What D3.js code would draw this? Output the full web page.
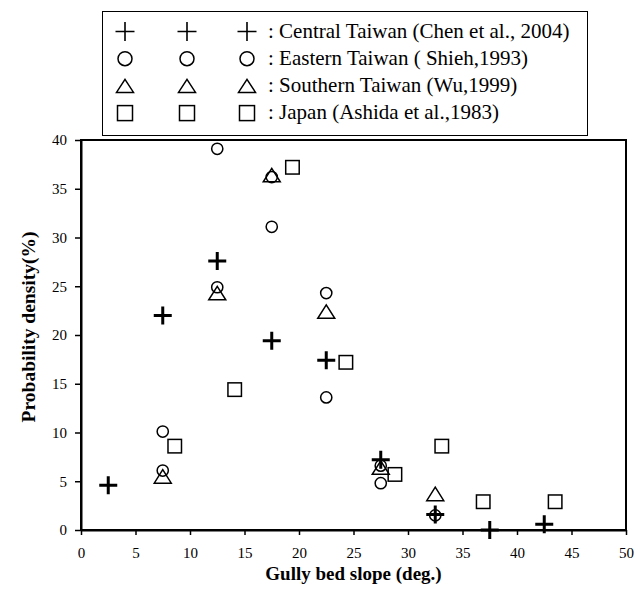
<!DOCTYPE html>
<html>
<head>
<meta charset="utf-8">
<script src="https://cdn.jsdelivr.net/npm/d3@7"></script>
<style>
  body { margin: 0; background: #fff; }
  svg text { font-family: "Liberation Serif", "Times New Roman", Times, serif; }
</style>
</head>
<body>
<div id="chart"></div>
<script>
// Werte (Gully bed slope vs. probability density)
const xTicks = [0, 5, 10, 15, 20, 25, 30, 35, 40, 45, 50];
const yTicks = [0, 5, 10, 15, 20, 25, 30, 35, 40];

const centralX = [2.5, 7.5, 12.5, 17.5, 22.5, 27.5, 32.5, 37.5, 42.5];
const centralY = [4.6, 22.0, 27.6, 19.4, 17.4, 7.2, 1.6, 0, 0.6];

const easternX = [7.5, 7.5, 12.5, 12.5, 17.5, 17.5, 22.5, 22.5, 27.5, 27.5, 32.5];
const easternY = [10.1, 6.1, 39.1, 24.9, 31.1, 36.2, 24.3, 13.6, 6.6, 4.8, 1.5];

const southernX = [7.5, 12.5, 17.5, 22.5, 27.5, 32.5];
const southernY = [5.5, 24.3, 36.4, 22.4, 6.4, 3.7];

const japanX = [8.6, 14.1, 19.4, 24.3, 28.8, 33.1, 36.9, 43.5];
const japanY = [8.6, 14.4, 37.2, 17.2, 5.7, 8.6, 2.9, 2.9];

const legendLabels = [
  ": Central Taiwan (Chen et al., 2004)",
  ": Eastern Taiwan ( Shieh,1993)",
  ": Southern Taiwan (Wu,1999)",
  ": Japan (Ashida et al.,1983)"
];

const series = [
  { xs: centralX, ys: centralY, type: "plus" },
  { xs: easternX, ys: easternY, type: "circle" },
  { xs: southernX, ys: southernY, type: "triangle" },
  { xs: japanX, ys: japanY, type: "square" }
];

const serif = "'Liberation Serif', 'Times New Roman', Times, serif";

// Größe und Ränder
const width = 635;
const height = 591;
const margin = { top: 140, right: 9, bottom: 61, left: 81 };

const svg = d3.select("#chart")
  .append("svg")
  .attr("width", width)
  .attr("height", height)
  .style("display", "block");

// Skalen
const x = d3.scaleLinear()
  .domain([0, 50])
  .range([margin.left, width - margin.right]);

const y = d3.scaleLinear()
  .domain([0, 40])
  .range([height - margin.bottom, margin.top]);

// Marker zeichnen
function drawMarker(g, type, big) {
  if (type === "plus") {
    const s = big ? 19 : 18;
    g.append("path")
      .attr("d", `M${-s / 2},0H${s / 2}M0,${-s / 2}V${s / 2}`)
      .attr("stroke", "black")
      .attr("stroke-width", big ? 1.6 : 3);
  } else if (type === "circle") {
    g.append("circle")
      .attr("r", big ? 7 : 5.6)
      .attr("fill", "none")
      .attr("stroke", "black")
      .attr("stroke-width", 1.5);
  } else if (type === "triangle") {
    const w = 17, h = big ? 13 : 13.5;
    g.append("path")
      .attr("d", `M0,${-h / 2}L${w / 2},${h / 2}L${-w / 2},${h / 2}Z`)
      .attr("fill", "none")
      .attr("stroke", "black")
      .attr("stroke-width", 1.5);
  } else {
    const s = big ? 15 : 13.5;
    g.append("rect")
      .attr("x", -s / 2)
      .attr("y", -s / 2)
      .attr("width", s)
      .attr("height", s)
      .attr("fill", "none")
      .attr("stroke", "black")
      .attr("stroke-width", 1.5);
  }
}

// Achsen
const xAxis = svg.append("g")
  .attr("transform", `translate(0,${y(0)})`)
  .call(d3.axisBottom(x).tickValues(xTicks).tickSize(5).tickSizeOuter(0).tickPadding(12));

const yAxis = svg.append("g")
  .attr("transform", `translate(${x(0)},0)`)
  .call(d3.axisLeft(y).tickValues(yTicks).tickSize(6).tickSizeOuter(0).tickPadding(8));

[xAxis, yAxis].forEach(a => {
  a.attr("font-family", serif).attr("font-size", "15px");
  a.selectAll("text")
    .attr("font-family", serif)
    .attr("font-size", "15px")
    .attr("fill", "black");
  a.selectAll(".tick line").attr("stroke-width", 1.5);
  a.select(".domain").attr("stroke-width", 2);
});

// Rahmen um die Zeichenfläche
svg.append("rect")
  .attr("x", x(0))
  .attr("y", y(40))
  .attr("width", x(50) - x(0))
  .attr("height", y(0) - y(40))
  .attr("fill", "none")
  .attr("stroke", "black")
  .attr("stroke-width", 2);

// Datenpunkte
series.forEach(s => {
  s.xs.forEach((v, i) => {
    const g = svg.append("g")
      .attr("transform", `translate(${x(v)},${y(s.ys[i])})`);
    drawMarker(g, s.type, false);
  });
});

// Achsentitel
svg.append("text")
  .attr("x", (x(0) + x(50)) / 2)
  .attr("y", 580)
  .attr("text-anchor", "middle")
  .attr("font-family", serif)
  .attr("font-weight", "bold")
  .attr("font-size", "19px")
  .text("Gully bed slope (deg.)");

svg.append("text")
  .attr("transform", `translate(35,${(y(0) + y(40)) / 2 - 8}) rotate(-90)`)
  .attr("text-anchor", "middle")
  .attr("font-family", serif)
  .attr("font-weight", "bold")
  .attr("font-size", "19.5px")
  .text("Probability density(%)");

// Legende
const legend = svg.append("g");
legend.append("rect")
  .attr("x", 102.5)
  .attr("y", 11.5)
  .attr("width", 485)
  .attr("height", 124)
  .attr("fill", "white")
  .attr("stroke", "black")
  .attr("stroke-width", 1);

const legendCols = [125, 187, 247];
series.forEach((s, i) => {
  const cy = 31.5 + i * 27.2;
  legendCols.forEach(cx => {
    const g = legend.append("g").attr("transform", `translate(${cx},${cy})`);
    drawMarker(g, s.type, true);
  });
  legend.append("text")
    .attr("x", 268)
    .attr("y", cy + 6)
    .attr("font-family", serif)
    .attr("font-size", "21px")
    .text(legendLabels[i]);
});
</script>
</body>
</html>
